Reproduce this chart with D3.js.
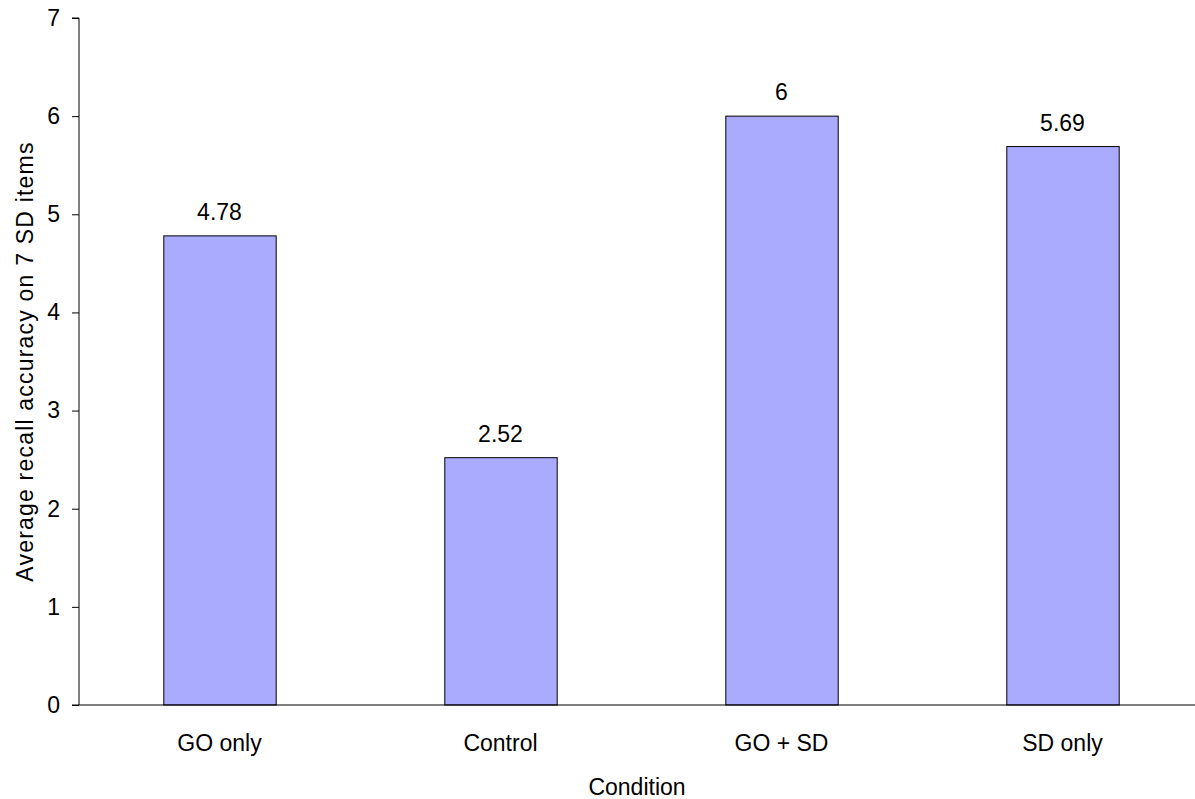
<!DOCTYPE html>
<html><head><meta charset="utf-8">
<script src="https://cdn.jsdelivr.net/npm/d3@7"></script>
<style>body{margin:0;background:#fff}text{font-family:"Liberation Sans",Arial,sans-serif;fill:#000}</style>
</head><body>
<svg id="c" width="1195" height="799"></svg>
<script>
const categories = ["GO only", "Control", "GO + SD", "SD only"];
const values = [4.78, 2.52, 6, 5.69];
const valueLabels = ["4.78", "2.52", "6", "5.69"];
const yTicks = [0, 1, 2, 3, 4, 5, 6, 7];

(function () {
const svg = d3.select("#c");
const FS = 23;
const mL = 79, mT = 18, mB = 705, mR = 1203;
const x = d3.scaleBand().domain(categories).range([mL, mR]).paddingInner(0.6).paddingOuter(0.3);
const y = d3.scaleLinear().domain([0, 7]).range([mB, mT]);

svg.selectAll("rect.bar").data(values).enter().append("rect")
  .attr("x", (d, i) => x(categories[i]) + 0.5)
  .attr("y", d => y(d))
  .attr("width", x.bandwidth())
  .attr("height", d => y(0) - y(d))
  .attr("fill", "#aaaaff").attr("stroke", "#000").attr("stroke-width", 1);

svg.selectAll("text.vl").data(values).enter().append("text")
  .attr("x", (d, i) => x(categories[i]) + x.bandwidth() / 2)
  .attr("y", d => y(d) - 16)
  .attr("text-anchor", "middle").attr("font-size", FS)
  .text((d, i) => valueLabels[i]);

const ya = svg.append("g").attr("transform", `translate(${mL},0)`)
  .call(d3.axisLeft(y).tickValues(yTicks).tickSize(7).tickPadding(12).tickFormat(d3.format("d")));
ya.select(".domain").attr("stroke", "#000").attr("d", `M-7,${mT}H0V${mB}`);
ya.selectAll("text").attr("font-size", FS).attr("font-family", "Liberation Sans, Arial, sans-serif");

const xa = svg.append("g").attr("transform", `translate(0,${mB})`)
  .call(d3.axisBottom(x).tickSize(0).tickPadding(30));
xa.select(".domain").attr("stroke", "#000").attr("d", `M${mL - 7},0H${mR}`);
xa.selectAll("text").attr("font-size", FS).attr("font-family", "Liberation Sans, Arial, sans-serif");

svg.append("text").attr("x", 637).attr("y", 795).attr("text-anchor", "middle")
  .attr("font-size", FS).text("Condition");
svg.append("text").attr("transform", `translate(33,${(mT + mB) / 2}) rotate(-90)`)
  .attr("text-anchor", "middle").attr("font-size", FS).attr("letter-spacing", 1.2)
  .text("Average recall accuracy on 7 SD items");
})();
</script>
</body></html>
